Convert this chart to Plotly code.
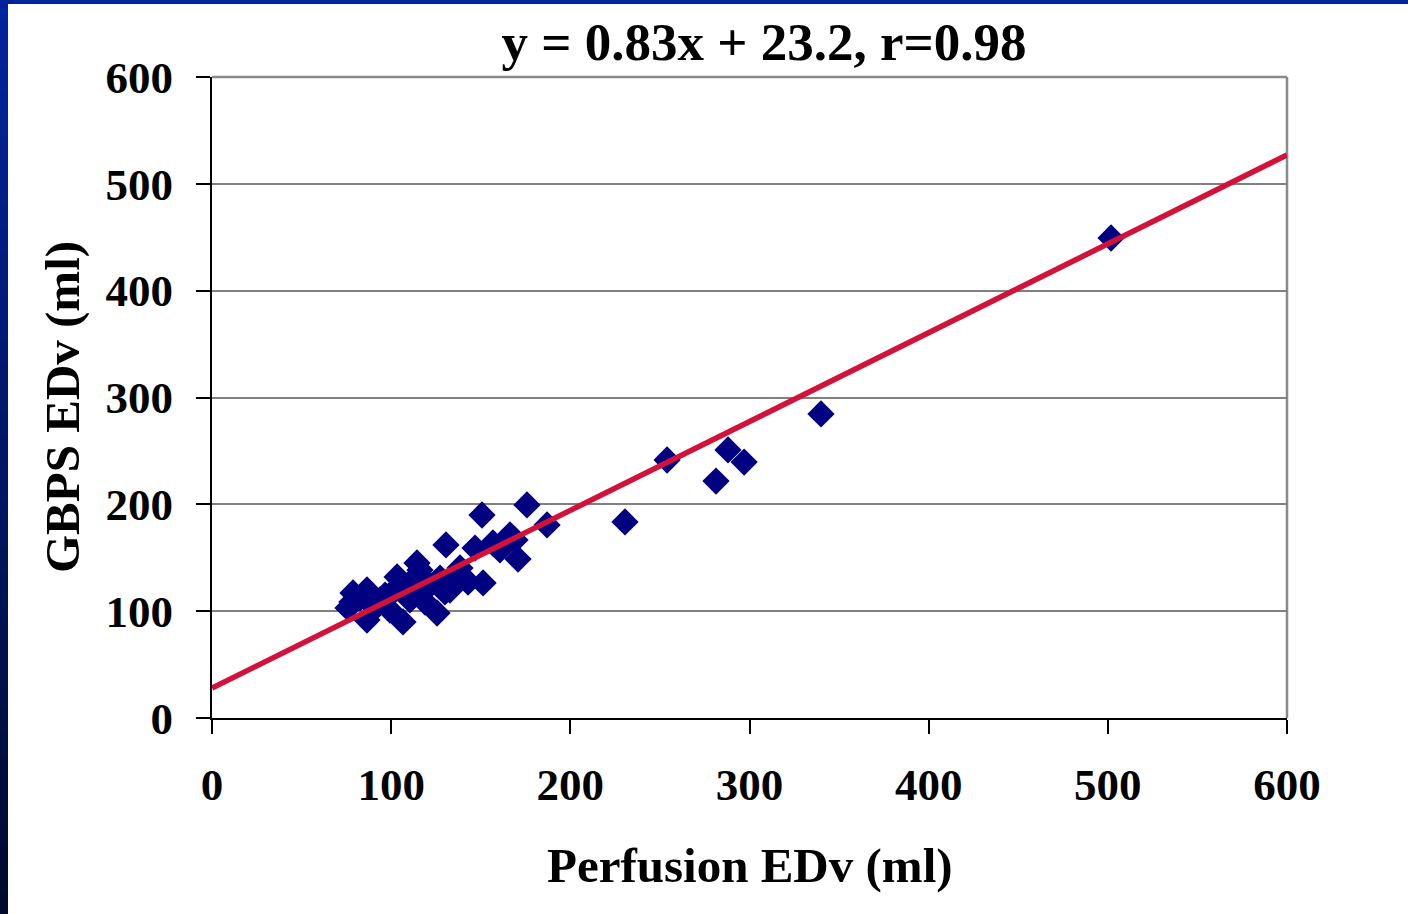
import plotly.graph_objects as go

# Data
perfusion_edv = [150.7, 175.8, 187.0, 130.6, 170.8, 146.8, 156.8, 166.3, 114.4, 151.3,
                 142.9, 125.6, 103.3, 78.7, 75.9, 86.5, 106.6, 132.8, 116.1, 93.8,
                 86.5, 82.6, 99.3, 110.5, 121.7, 127.3, 135.6, 102.0, 91.0, 109.4,
                 118.9, 138.4, 160.7, 169.1, 96.6, 78.1, 116.1, 130.0,
                 501.8, 339.9, 254.0, 288.0, 297.0, 281.3, 230.5]
gbps_edv = [190.0, 199.4, 180.7, 162.0, 148.8, 159.1, 163.8, 171.3, 145.1, 126.4,
            127.3, 98.3, 132.0, 117.0, 103.0, 91.7, 89.9, 119.8, 117.0, 110.5,
            119.8, 112.3, 101.0, 110.5, 124.5, 131.0, 129.2, 119.8, 103.0, 124.5,
            108.6, 140.4, 157.3, 166.6, 115.0, 108.6, 138.5, 118.0,
            449.3, 284.6, 241.5, 250.9, 239.6, 221.8, 183.5]
fit_x = [0, 600]
fit_y = [28, 527]
axis_ticks = [0, 100, 200, 300, 400, 500, 600]

W, H = 1408, 914
L, R, T, B = 212, 121, 77, 196
PW, PH = W - L - R, H - T - B

FONT = "Liberation Serif, Times New Roman, serif"

fig = go.Figure()
fig.add_trace(go.Scatter(
    x=perfusion_edv, y=gbps_edv, mode="markers",
    marker=dict(symbol="diamond", size=21, color="#000080", line=dict(width=0)),
    showlegend=False, hoverinfo="skip"))
fig.add_trace(go.Scatter(
    x=fit_x, y=fit_y, mode="lines",
    line=dict(color="#D3123A", width=5.5),
    showlegend=False, hoverinfo="skip"))

shapes = []
# left gradient strip
n = 40
c0 = (0, 36, 158)
c1 = (0, 10, 46)
for i in range(n):
    f = i / (n - 1)
    c = tuple(int(round(c0[k] + (c1[k] - c0[k]) * f)) for k in range(3))
    y_top = i * H / n
    y_bot = (i + 1) * H / n + 1
    shapes.append(dict(type="rect", xref="paper", yref="paper",
                       x0=(0 - L) / PW, x1=(8 - L) / PW,
                       y0=1 - (min(y_bot, H) - T) / PH, y1=1 - (y_top - T) / PH,
                       fillcolor="rgb(%d,%d,%d)" % c, line=dict(width=0), layer="above"))
# top strip
shapes.append(dict(type="rect", xref="paper", yref="paper",
                   x0=(0 - L) / PW, x1=(W - L) / PW,
                   y0=1 - (4 - T) / PH, y1=1 - (0 - T) / PH,
                   fillcolor="rgb(0,36,156)", line=dict(width=0), layer="above"))
# gray top and right frame
shapes.append(dict(type="line", xref="paper", yref="paper", x0=0, x1=1, y0=1, y1=1,
                   line=dict(color="#8a8a8a", width=2.5), layer="below"))
shapes.append(dict(type="line", xref="paper", yref="paper", x0=1, x1=1, y0=0, y1=1,
                   line=dict(color="#8a8a8a", width=2.5), layer="below"))

annotations = [
    dict(text="Perfusion EDv (ml)", xref="paper", yref="paper",
         x=(750 - L) / PW, y=1 - (865 - T) / PH, xanchor="center", yanchor="middle",
         showarrow=False,
         font=dict(family=FONT, size=49, color="black", weight="bold")),
    dict(text="GBPS EDv (ml)", xref="paper", yref="paper", textangle=-90,
         x=(62 - L) / PW, y=1 - (407 - T) / PH, xanchor="center", yanchor="middle",
         showarrow=False,
         font=dict(family=FONT, size=49, color="black", weight="bold")),
]

fig.update_layout(
    width=W, height=H,
    margin=dict(l=L, r=R, t=T, b=B),
    paper_bgcolor="white", plot_bgcolor="white",
    shapes=shapes, annotations=annotations,
    title=dict(text="y = 0.83x + 23.2, r=0.98", x=764 / W, xanchor="center",
               y=1 - 41 / H, yanchor="middle", xref="container", yref="container",
               font=dict(family=FONT, size=53, color="black", weight="bold")),
    xaxis=dict(range=[0, 600], tickvals=axis_ticks, ticks="outside", ticklen=14,
               tickwidth=2, tickcolor="black", showline=True, linecolor="black",
               linewidth=2, showgrid=False, zeroline=False,
               tickfont=dict(family=FONT, size=45, color="black", weight="bold"),
               ticklabelstandoff=12),
    yaxis=dict(range=[0, 600], tickvals=axis_ticks, ticks="outside", ticklen=14,
               tickwidth=2, tickcolor="black", showline=True, linecolor="black",
               linewidth=2, showgrid=True, gridcolor="#808080", gridwidth=1.5,
               zeroline=False,
               tickfont=dict(family=FONT, size=45, color="black", weight="bold"),
               ticklabelstandoff=14),
)

fig.write_html("out.html")
